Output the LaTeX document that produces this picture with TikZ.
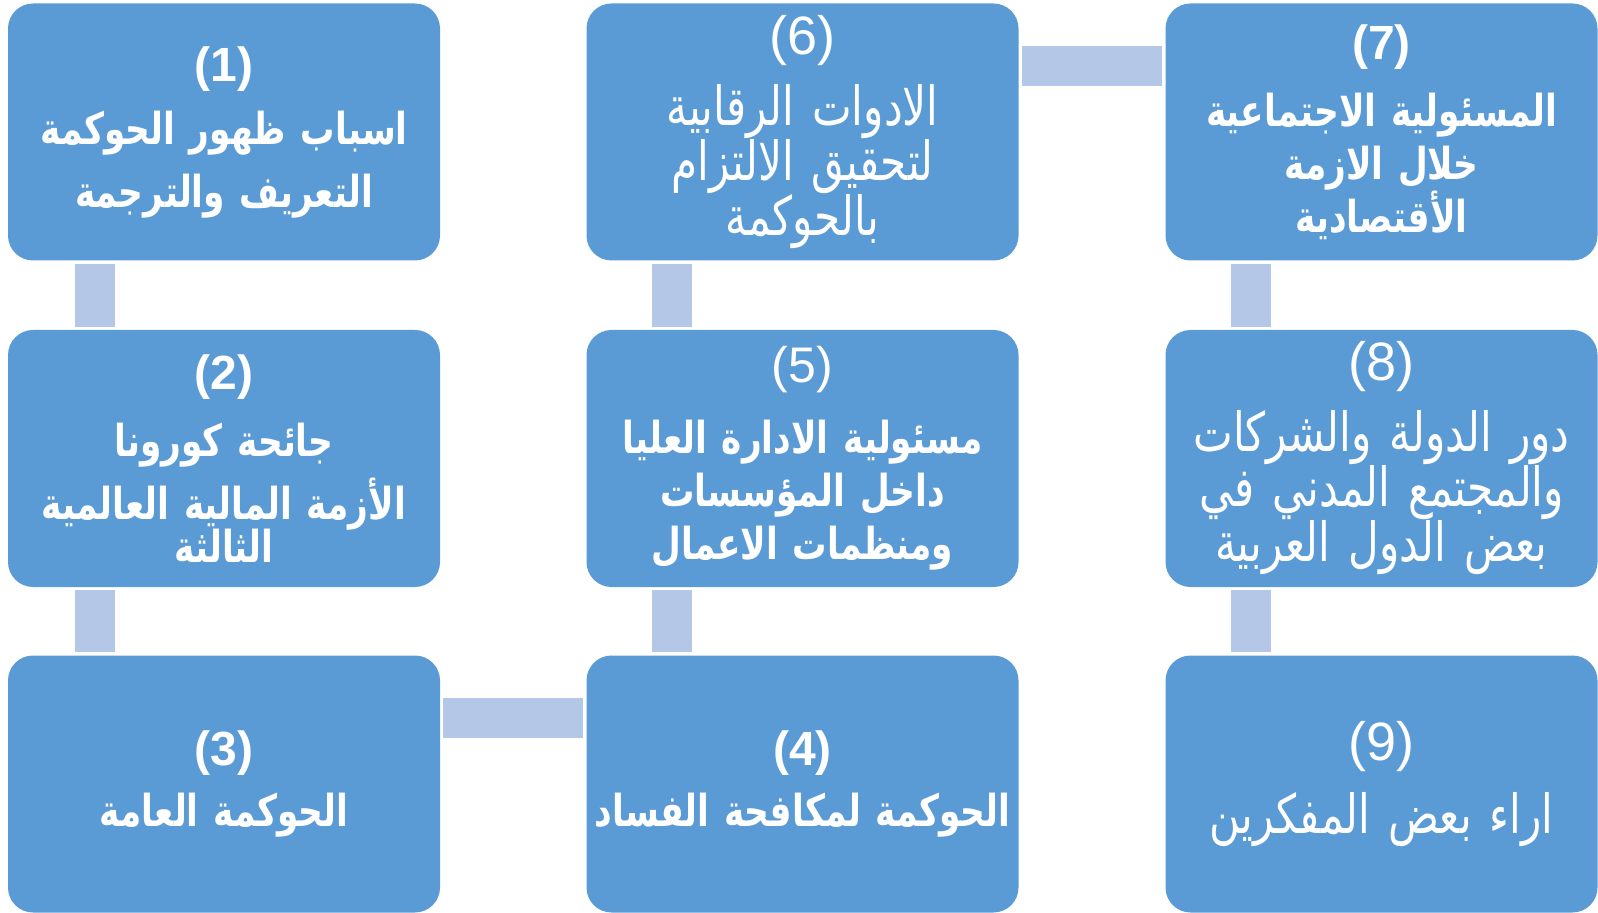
\documentclass[tikz,border=0pt]{standalone}
\usepackage{fontspec}
\setmainfont{Liberation Sans}
\newfontfamily\arabicfont[Script=Arabic, FakeStretch=0.78]{DejaVu Sans}
\TeXXeTstate=1
\newcommand{\artxt}[1]{{\arabicfont\beginR #1\endR}}
\newcommand{\numtxt}[2]{{\fontsize{#1}{#1}\selectfont(#2)}}
\definecolor{boxblue}{HTML}{5B9BD5}
\definecolor{linkblue}{HTML}{B4C7E7}

\begin{document}
\begin{tikzpicture}[x=.5pt, y=-.5pt,
  box/.style={rectangle, rounded corners=12.5pt, fill=boxblue, text=white,
    minimum width=216pt, minimum height=128.5pt, text width=212pt,
    align=center, inner sep=0pt},
  heavy/.style={font=\bfseries\fontsize{22}{26.5}\selectfont},
  light/.style={font=\fontsize{27}{27.5}\selectfont},
  link/.style={linkblue, line width=20pt, shorten >=1.5pt, shorten <=1.5pt}]

\useasboundingbox (0,0) rectangle (1598,913);

% column 1
\node[box, heavy] (b1) at (224,132) {\numtxt{24}{1}\\[5pt] \artxt{اسباب ظهور الحوكمة}\\[5pt] \artxt{التعريف والترجمة}};
\node[box, heavy] (b2) at (224,458.5) {\numtxt{24}{2}\\[7pt] \artxt{جائحة كورونا}\\[5pt] \artxt{الأزمة المالية العالمية}\\[-5pt] \artxt{الثالثة}};
\node[box, heavy] (b3) at (224,784) {\numtxt{24}{3}\\[4pt] \artxt{الحوكمة العامة}};

% column 2
\node[box, heavy] (b4) at (802.5,784) {\numtxt{24}{4}\\[4pt] \artxt{الحوكمة لمكافحة الفساد}};
\node[box, heavy] (b5) at (802.5,458.5) {{\mdseries\numtxt{25}{5}}\\[9pt] \artxt{مسئولية الادارة العليا}\\ \artxt{داخل المؤسسات}\\ \artxt{ومنظمات الاعمال}};
\node[box, light] (b6) at (802.5,132) {\numtxt{27}{6}\\[8pt] \artxt{الادوات الرقابية}\\ \artxt{لتحقيق الالتزام}\\ \artxt{بالحوكمة}};

% column 3
\node[box, heavy] (b7) at (1381.5,132) {\numtxt{24}{7}\\[7pt] \artxt{المسئولية الاجتماعية}\\ \artxt{خلال الازمة}\\ \artxt{الأقتصادية}};
\node[box, light] (b8) at (1381.5,458.5) {\numtxt{27}{8}\\[8pt] \artxt{دور الدولة والشركات}\\ \artxt{والمجتمع المدني في}\\ \artxt{بعض الدول العربية}};
\node[box, light] (b9) at (1381.5,784) {\numtxt{27}{9}\\[9pt] \artxt{اراء بعض المفكرين}};

% connectors
\draw[link] ([xshift=43.5pt]b1.south west) -- ([xshift=43.5pt]b2.north west);
\draw[link] ([xshift=43.5pt]b2.south west) -- ([xshift=43.5pt]b3.north west);
\draw[link] ([yshift=-31.5pt]b3.north east) -- ([yshift=-31.5pt]b4.north west);
\draw[link] ([xshift=43pt]b4.north west) -- ([xshift=43pt]b5.south west);
\draw[link] ([xshift=43pt]b5.north west) -- ([xshift=43pt]b6.south west);
\draw[link] ([yshift=-31.5pt]b6.north east) -- ([yshift=-31.5pt]b7.north west);
\draw[link] ([xshift=43pt]b7.south west) -- ([xshift=43pt]b8.north west);
\draw[link] ([xshift=43pt]b8.south west) -- ([xshift=43pt]b9.north west);

\end{tikzpicture}
\end{document}
